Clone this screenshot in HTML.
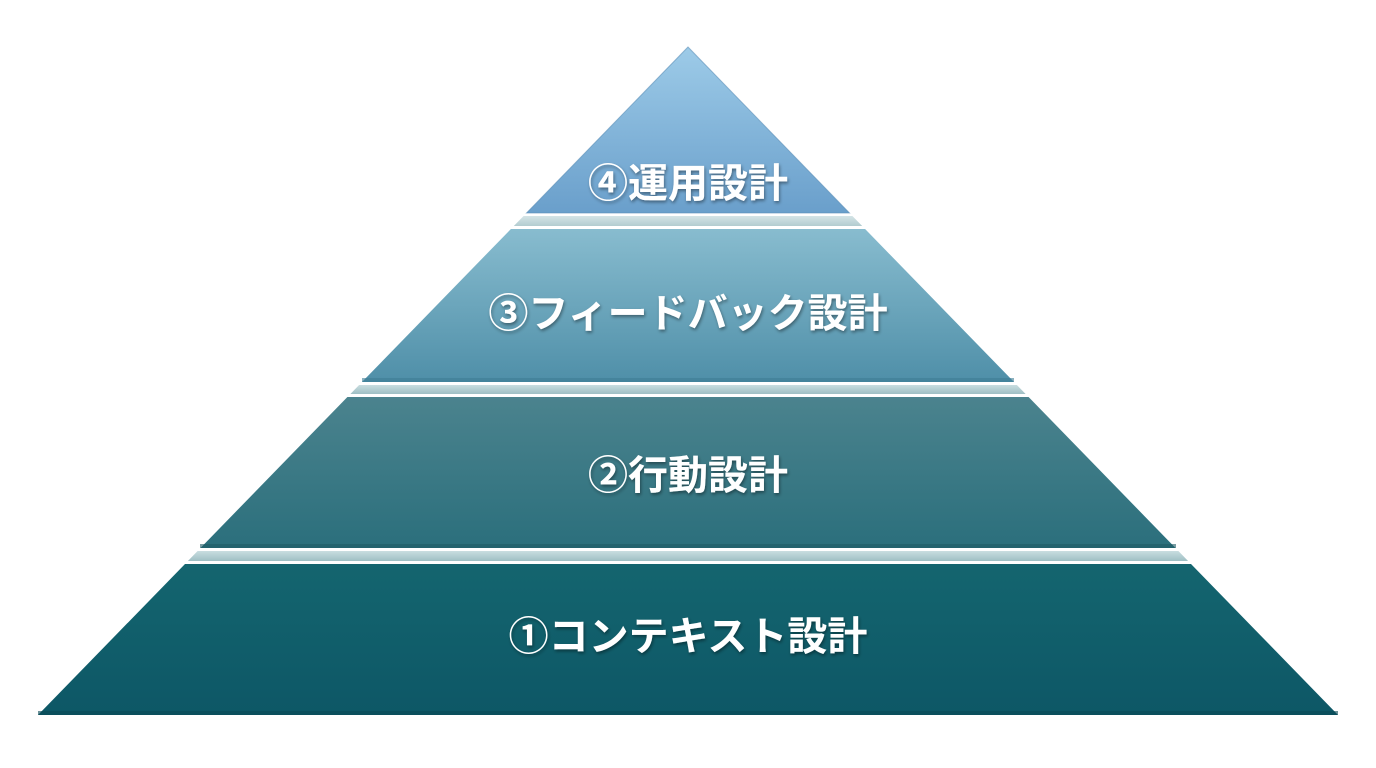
<!DOCTYPE html>
<html><head><meta charset="utf-8"><style>
html,body{margin:0;padding:0;background:#fff;}
svg{display:block}
text{font-family:"Liberation Sans","Noto Sans CJK JP",sans-serif;font-weight:bold;font-size:40px;fill:#fff;text-anchor:middle;dominant-baseline:central}
</style></head><body>
<svg width="1376" height="768" viewBox="0 0 1376 768">
<defs>
<linearGradient id="g4" x1="0" y1="0" x2="0" y2="1"><stop offset="0" stop-color="#9dcbe8"/><stop offset="1" stop-color="#6a9fcb"/></linearGradient>
<linearGradient id="g3" x1="0" y1="0" x2="0" y2="1"><stop offset="0" stop-color="#88bccf"/><stop offset="1" stop-color="#4f8fa8"/></linearGradient>
<linearGradient id="g2" x1="0" y1="0" x2="0" y2="1"><stop offset="0" stop-color="#4b838e"/><stop offset="1" stop-color="#2b6f7c"/></linearGradient>
<linearGradient id="g1" x1="0" y1="0" x2="0" y2="1"><stop offset="0" stop-color="#14656f"/><stop offset="1" stop-color="#0d5766"/></linearGradient>
<linearGradient id="rf" x1="0" y1="0" x2="0" y2="1"><stop offset="0" stop-color="#c9dde0"/><stop offset="1" stop-color="#9fbfc4"/></linearGradient>
<filter id="ts"><feDropShadow dx="1" dy="2" stdDeviation="1.5" flood-color="#000" flood-opacity="0.4"/></filter>
</defs>
<polygon points="688,47 849.5,213 526.5,213" fill="url(#g4)"/>
<polygon points="688,47 849.5,213 526.5,213" fill="none" stroke="#5a8db8" stroke-width="1" opacity="0.6"/>
<polygon points="523.6,216 852.4,216 862.2,226 513.8,226" fill="url(#rf)" opacity="0.8"/>
<polygon points="510.9,229 865.1,229 1014,382 362,382" fill="url(#g3)"/>
<rect x="362" y="378" width="652" height="4" fill="#3e7d94" opacity="0.6"/>
<polygon points="359.1,385 1016.9,385 1025.6,394 350.4,394" fill="url(#rf)"/>
<polygon points="347.4,397 1028.6,397 1175.5,548 200.5,548" fill="url(#g2)"/>
<rect x="200" y="544" width="976" height="4" fill="#1f5b66" opacity="0.6"/>
<polygon points="197.6,551 1178.4,551 1188.1,561 187.9,561" fill="url(#rf)"/>
<polygon points="185,564 1191,564 1338,715 38,715" fill="url(#g1)"/>
<rect x="38" y="711" width="1300" height="4" fill="#0a4a55" opacity="0.6"/>
<g filter="url(#ts)">
<text x="688" y="184">④運用設計</text>
<text x="688" y="314">③フィードバック設計</text>
<text x="688" y="476">②行動設計</text>
<text x="688" y="637">①コンテキスト設計</text>
</g>
</svg>
</body></html>
